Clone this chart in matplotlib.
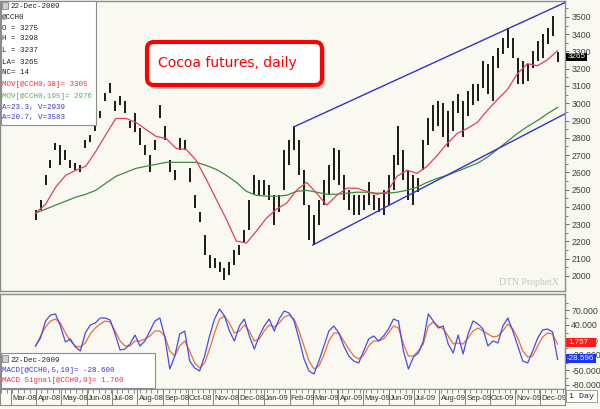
import matplotlib
matplotlib.use('Agg')
import matplotlib.pyplot as plt
from matplotlib.patches import Rectangle, FancyBboxPatch
from matplotlib.transforms import IdentityTransform
import pandas as pd

# ---------------- data ----------------
START = '2008-03-31'
END = '2009-12-22'

bar_high = [2381, 2438, 2583, 2669, 2767, 2756, 2727, 2669, 2652, 2640,
            2785, 2814, 2900, 2958, 3062, 3119, 3015, 3044, 3015, 2900,
            2946, 2854, 2756, 2698, 2785, 2987, 2871, 2669, 2612, 2796,
            2785, 2623, 2467, 2369, 2237, 2121, 2104, 2081, 2046, 2081,
            2150, 2179, 2265, 2438, 2583, 2554, 2554, 2525, 2467, 2467,
            2727, 2785, 2871, 2785, 2612, 2409, 2352, 2438, 2554, 2640,
            2739, 2727, 2583, 2496, 2467, 2467, 2467, 2542, 2467, 2450,
            2496, 2583, 2698, 2871, 2727, 2612, 2583, 2565, 2785, 2912,
            2987, 3015, 3004, 2958, 3015, 3056, 3015, 3073, 3113, 3113,
            3246, 3229, 3275, 3321, 3379, 3437, 3379, 3263, 3246, 3229,
            3304, 3362, 3402, 3437, 3506, 3298]
bar_low = [2323, 2381, 2525, 2623, 2727, 2640, 2669, 2623, 2612, 2600,
           2739, 2773, 2842, 2912, 3015, 3062, 2958, 2987, 2946, 2854,
           2831, 2756, 2698, 2600, 2727, 2912, 2785, 2600, 2554, 2727,
           2727, 2542, 2392, 2312, 2121, 2046, 2046, 2023, 1977, 2006,
           2064, 2121, 2196, 2265, 2467, 2467, 2467, 2438, 2294, 2369,
           2496, 2640, 2727, 2583, 2409, 2208, 2179, 2294, 2409, 2467,
           2554, 2525, 2438, 2381, 2352, 2352, 2381, 2409, 2381, 2369,
           2352, 2409, 2496, 2640, 2554, 2438, 2409, 2485, 2612, 2756,
           2842, 2871, 2802, 2744, 2842, 2946, 2802, 2929, 2987, 3015,
           3090, 3056, 3015, 3206, 3287, 3321, 3263, 3113, 3113, 3131,
           3206, 3246, 3263, 3344, 3390, 3237]

ma38 = [2364, 2415, 2514, 2583, 2612, 2635, 2721, 2819, 2912, 2912,
        2889, 2848, 2808, 2796, 2739, 2733, 2669, 2560, 2444, 2329,
        2202, 2190, 2260, 2335, 2387, 2421, 2496, 2542, 2479, 2410,
        2467, 2508, 2508, 2490, 2473, 2485, 2577, 2612, 2594, 2635,
        2698, 2767, 2825, 2854, 2889, 2958, 3021, 3079, 3171, 3229,
        3217, 3252, 3305]
ma195 = [2364, 2387, 2410, 2433, 2456, 2473, 2496, 2537, 2577, 2600,
         2623, 2635, 2646, 2658, 2658, 2658, 2658, 2640, 2617, 2583,
         2542, 2490, 2467, 2462, 2462, 2467, 2490, 2496, 2485, 2473,
         2473, 2479, 2485, 2485, 2479, 2479, 2485, 2496, 2514, 2542,
         2565, 2583, 2606, 2629, 2652, 2687, 2733, 2779, 2825, 2865,
         2900, 2940, 2976]

macd = [-2, 14, 48, 60, 62, 38, 6, 12, -4, -12,
        24, 40, 44, 54, 54, 50, 22, -10, -8, 2,
        20, -2, 8, 28, 48, 54, 16, -48, -22, 22,
        28, -32, -46, -52, -22, 18, 52, 72, 58, 28,
        8, 38, 52, 18, -8, 18, 38, 52, 28, 52,
        68, 64, 48, 12, -28, -52, -58, -32, -2, 28,
        38, 24, -2, -22, -32, -36, -12, 12, 18, 8,
        18, 32, 52, 48, -12, -48, -24, -16, 8, 62,
        48, 34, 38, 2, -16, 20, -18, 22, 48, 42,
        32, -2, 8, 4, 38, 54, 28, -2, -32, -36,
        -12, 14, 30, 32, 26, -28.6]
signal = [-2, 18, 36, 48, 52, 44, 24, 8, -2, -4,
          4, 22, 34, 42, 48, 46, 28, 8, -2, -2,
          8, 8, 12, 18, 28, 28, 18, -12, -22, -2,
          8, -12, -36, -46, -36, -8, 24, 52, 58, 44,
          24, 28, 40, 28, 8, 12, 28, 40, 36, 44,
          56, 60, 52, 28, -2, -32, -48, -42, -20, 8,
          24, 24, 8, -8, -22, -28, -20, -2, 8, 8,
          12, 24, 38, 34, 2, -22, -22, -12, 2, 38,
          46, 38, 32, 18, 2, 4, 2, 14, 28, 34,
          28, 22, 16, 18, 28, 42, 32, 14, -12, -24,
          -22, -2, 16, 24, 22, 1.76]

upper_dates = ['2009-02-07', '2009-12-31']
upper_vals = [2865, 3583]
lower_dates = ['2009-03-01', '2009-12-31']
lower_vals = [2179, 2939]

price_ticks = [2000, 2100, 2200, 2300, 2400, 2500, 2600, 2700, 2800,
               2900, 3000, 3100, 3200, 3300, 3400, 3500]
macd_ticks = [70, 40, 10, -20, -50, -80]
month_labels = ['Mar-08', 'Apr-08', 'May-08', 'Jun-08', 'Jul-08', 'Aug-08',
                'Sep-08', 'Oct-08', 'Nov-08', 'Dec-08', 'Jan-09', 'Feb-09',
                'Mar-09', 'Apr-09', 'May-09', 'Jun-09', 'Jul-09', 'Aug-09',
                'Sep-09', 'Oct-09', 'Nov-09', 'Dec-09']

info_lines = ['@CCH0', 'O = 3275', 'H = 3298', 'L = 3237', 'LA= 3265', 'NC= 14']
last_price = 3265
last_macd_tag = -28.596
last_signal_tag = 1.757

# ---------------- styling ----------------
BG = '#f9f9f1'
W, H = 600, 409
MONO = ['Liberation Mono', 'DejaVu Sans Mono']
SANS = ['Liberation Sans', 'DejaVu Sans']
XMIN, XMAX = pd.Timestamp('2008-02-17'), pd.Timestamp('2009-12-31')


def fx(px):
    return px / W


def fy(py):
    return 1 - py / H


fig = plt.figure(figsize=(6, 4.09), dpi=100)
fig.patch.set_facecolor(BG)

# main price panel
ax = fig.add_axes([0.0, fy(291), fx(565), (291 - 1) / H])
ax.set_facecolor(BG)
d_bar = pd.date_range(START, END, periods=len(bar_high))
d_ma = pd.date_range(START, END, periods=len(ma38))
ax.vlines(d_bar, bar_low, bar_high, color='#1a1a1a', lw=1.4, zorder=3)
ax.plot(d_ma, ma195, color='#3f8a3f', lw=0.9, zorder=4)
ax.plot(d_ma, ma38, color='#e0405c', lw=0.9, zorder=4)
ax.plot(pd.to_datetime(upper_dates), upper_vals, color='#3434c4', lw=1.0, zorder=4)
ax.plot(pd.to_datetime(lower_dates), lower_vals, color='#3434c4', lw=1.0, zorder=4)
ax.set_xlim(XMIN, XMAX)
ax.set_ylim(1913, 3592)
ax.yaxis.tick_right()
ax.set_yticks(price_ticks)
ax.set_yticks([v + 50 for v in price_ticks], minor=True)
ax.set_yticklabels([str(v) for v in price_ticks])
ax.tick_params(axis='y', which='major', labelsize=6.3, length=3, width=0.6,
               colors='#505050', labelcolor='#404040', pad=1.5)
ax.tick_params(axis='y', which='minor', length=2, width=0.5, colors='#505050')
for lab in ax.get_yticklabels():
    lab.set_fontfamily(SANS)
ax.set_xticks([])
for s in ax.spines.values():
    s.set_color('#8c8c8c')
    s.set_linewidth(1.0)

ax.text(0.99, 0.03, 'DTN ProphetX', transform=ax.transAxes, ha='right',
        va='center', fontsize=7, color='#c4c4c4', family=['Liberation Serif', 'DejaVu Serif'])

# MACD panel
ax2 = fig.add_axes([0.0, fy(389), fx(565), (389 - 294) / H])
ax2.set_facecolor(BG)
d_m = pd.date_range(START, END, periods=len(macd))
ax2.plot(d_m, signal, color='#e7703a', lw=0.9, zorder=3)
ax2.plot(d_m, macd, color='#4a4ae6', lw=0.9, zorder=4)
ax2.set_xlim(XMIN, XMAX)
ax2.set_ylim(-88, 102)
ax2.yaxis.tick_right()
ax2.set_yticks(macd_ticks)
ax2.set_yticks([v + 15 for v in macd_ticks], minor=True)
ax2.set_yticklabels(['%.3f' % v for v in macd_ticks])
ax2.tick_params(axis='y', which='major', labelsize=6.3, length=3, width=0.6,
                colors='#505050', labelcolor='#404040', pad=1.5)
ax2.tick_params(axis='y', which='minor', length=2, width=0.5, colors='#505050')
for lab in ax2.get_yticklabels():
    lab.set_fontfamily(SANS)
ax2.set_xticks([])
for s in ax2.spines.values():
    s.set_color('#8c8c8c')
    s.set_linewidth(1.0)

# date strip
axd = fig.add_axes([0.0, fy(405), fx(565), (405 - 389) / H])
axd.set_facecolor(BG)
axd.set_xlim(XMIN, XMAX)
axd.set_ylim(0, 1)
axd.set_xticks([])
axd.set_yticks([])
for s in axd.spines.values():
    s.set_color('#8c8c8c')
    s.set_linewidth(0.8)
months = pd.date_range('2008-03-01', periods=len(month_labels), freq='MS')
weeks = pd.date_range('2008-02-18', '2009-12-31', freq='W-MON')
axd.vlines(weeks, 0.78, 1.0, color='#606060', lw=0.5)
axd.vlines(months, 0.0, 1.0, color='#707070', lw=0.6)
for m, lab in zip(months, month_labels):
    axd.text(m + pd.Timedelta(days=1.5), 0.42, lab, fontsize=5.6, ha='left',
             va='center', color='#303030', family=SANS, clip_on=True)


def px_rect(x0, y0, x1, y1, **kw):
    r = Rectangle((fx(x0), fy(y1)), fx(x1) - fx(x0), fy(y0) - fy(y1),
                  transform=fig.transFigure, **kw)
    fig.add_artist(r)
    return r


# last value tags on right axes
px_rect(566, 53, 587, 61, facecolor='black', edgecolor='none', zorder=10)
fig.text(fx(576.5), fy(57), str(last_price), fontsize=5.8, color='white',
         ha='center', va='center', family=SANS, zorder=11)
px_rect(566, 338, 596, 347, facecolor='#ff1a1a', edgecolor='none', zorder=10)
fig.text(fx(568), fy(342.5), '%.3f' % last_signal_tag, fontsize=5.8, color='white',
         ha='left', va='center', family=SANS, zorder=11)
px_rect(566, 354, 596, 363, facecolor='#1a33ff', edgecolor='none', zorder=10)
fig.text(fx(567), fy(358.5), '%.3f' % last_macd_tag, fontsize=5.8, color='white',
         ha='left', va='center', family=SANS, zorder=11)

# "1 Day" box
px_rect(566, 390, 597, 402, facecolor='white', edgecolor='#909090', lw=0.6, zorder=10)
fig.text(fx(581.5), fy(396), '1 Day', fontsize=6, color='#202020', ha='center',
         va='center', family=MONO, zorder=11)

# main legend box
px_rect(0.5, 0.5, 96, 125, facecolor='white', edgecolor='#8c8c8c', lw=0.8, zorder=10)
px_rect(2, 2, 8, 9, facecolor='#d0d0d0', edgecolor='#707070', lw=0.5, zorder=11)
fs = 5.4
fig.text(fx(10), fy(6), '22-Dec-2009', fontsize=fs, color='#202020', va='center',
         family=MONO, zorder=11)
ys = [17, 28, 39, 51, 62, 73]
for yy, t in zip(ys, info_lines):
    fig.text(fx(2), fy(yy), t, fontsize=fs, color='#202020', va='center',
             family=MONO, zorder=11)
fig.text(fx(2), fy(84), 'MOV[@CCH0,38]= 3305', fontsize=fs, color='#f03040',
         va='center', family=MONO, zorder=11)
fig.text(fx(2), fy(96), 'MOV[@CCH0,195]= 2976', fontsize=fs, color='#52b052',
         va='center', family=MONO, zorder=11)
fig.text(fx(2), fy(107), 'A=23.3, V=2939', fontsize=fs, color='#3838c0',
         va='center', family=MONO, zorder=11)
fig.text(fx(2), fy(118), 'A=20.7, V=3583', fontsize=fs, color='#3838c0',
         va='center', family=MONO, zorder=11)

# MACD legend box
px_rect(0.5, 353, 155, 388, facecolor='white', edgecolor='#8c8c8c', lw=0.8, zorder=10)
px_rect(2, 355, 8, 362, facecolor='#d0d0d0', edgecolor='#707070', lw=0.5, zorder=11)
fig.text(fx(10), fy(360), '22-Dec-2009', fontsize=fs, color='#202020', va='center',
         family=MONO, zorder=11)
fig.text(fx(2), fy(371), 'MACD[@CCH0,5,10]= -28.600', fontsize=fs, color='#3838d0',
         va='center', family=MONO, zorder=11)
fig.text(fx(2), fy(381), 'MACD Signal[@CCH0,9]= 1.760', fontsize=fs, color='#f03040',
         va='center', family=MONO, zorder=11)

# title callout
shadow = FancyBboxPatch((149, H - 89), 176, 44, boxstyle='round,pad=0,rounding_size=7',
                        transform=IdentityTransform(), facecolor='#9a9a9a',
                        edgecolor='none', alpha=0.55, zorder=12)
fig.add_artist(shadow)
box = FancyBboxPatch((147, H - 85), 175, 43, boxstyle='round,pad=0,rounding_size=7',
                     transform=IdentityTransform(), facecolor='white',
                     edgecolor='#ff0000', lw=3.0, zorder=13)
fig.add_artist(box)
fig.text(fx(227), fy(63), 'Cocoa futures, daily', fontsize=10, color='#ff0000',
         ha='center', va='center', family=['DejaVu Sans'], zorder=14)

fig.savefig('out.png', dpi=100, facecolor=BG)
